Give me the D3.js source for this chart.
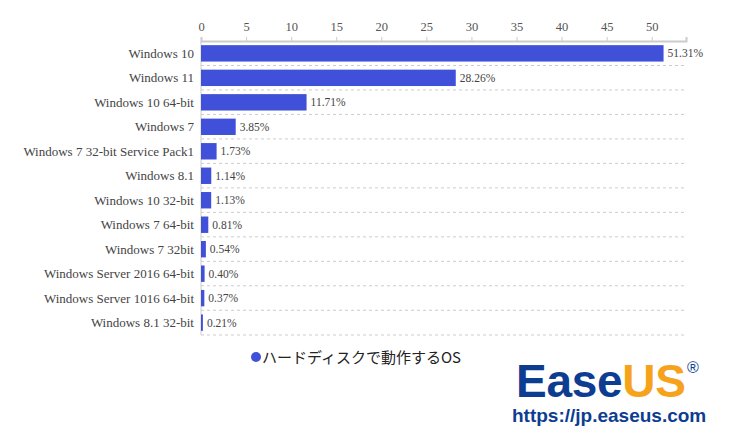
<!DOCTYPE html>
<html><head><meta charset="utf-8">
<script src="https://cdn.jsdelivr.net/npm/d3@7"></script>
<style>body{margin:0;background:#fff}.serif{font-family:"Liberation Serif","Times New Roman","DejaVu Serif",serif}</style></head>
<body><svg id="c" width="737" height="439"></svg>
<script>
const categories=["Windows 10","Windows 11","Windows 10 64-bit","Windows 7","Windows 7 32-bit Service Pack1","Windows 8.1","Windows 10 32-bit","Windows 7 64-bit","Windows 7 32bit","Windows Server 2016 64-bit","Windows Server 1016 64-bit","Windows 8.1 32-bit"];
const values=[51.31,28.26,11.71,3.85,1.73,1.14,1.13,0.81,0.54,0.40,0.37,0.21];
const ticks=[0,5,10,15,20,25,30,35,40,45,50];
const seriesName="ハードディスクで動作するOS";
const svg=d3.select("#c");
const x=d3.scaleLinear().domain([0,53.8]).range([201,686]);
const y=d3.scaleBand().domain(categories).range([41,335]).paddingInner(0.33).paddingOuter(0.17);
const step=y.step();
categories.forEach((c,i)=>{ if(i>0) svg.append("line").attr("x1",201).attr("x2",686).attr("y1",41+i*step).attr("y2",41+i*step).attr("stroke","#ccc").attr("stroke-dasharray","3,3");});
svg.append("line").attr("x1",201).attr("x2",686).attr("y1",335).attr("y2",335).attr("stroke","#ccc").attr("stroke-dasharray","3,3");
const ax=svg.append("g").attr("transform","translate(0,41)").call(d3.axisTop(x).tickValues(ticks).tickSize(4).tickPadding(6));
ax.attr("font-family",null);
ax.select(".domain").attr("stroke","#ccc").attr("stroke-width",2);
ax.selectAll(".tick line").attr("stroke","#ccc");
ax.selectAll("text").attr("class","serif").attr("font-size",12.5).attr("fill","#555");
svg.append("line").attr("x1",201).attr("x2",201).attr("y1",41).attr("y2",335).attr("stroke","#ccc");
svg.selectAll("rect.b").data(values).join("rect").attr("x",x(0)).attr("y",(d,i)=>y(categories[i])).attr("width",d=>x(d)-x(0)).attr("height",y.bandwidth()).attr("fill","#4050d8");
svg.selectAll("text.v").data(values).join("text").attr("class","serif").attr("x",d=>x(d)+4).attr("y",(d,i)=>y(categories[i])+y.bandwidth()/2).attr("dy","0.35em").attr("font-size",11.5).attr("fill","#444").text(d=>d.toFixed(2)+"%");
svg.selectAll("text.c").data(categories).join("text").attr("class","serif").attr("x",194).attr("y",d=>y(d)+y.bandwidth()/2).attr("dy","0.35em").attr("text-anchor","end").attr("font-size",13).attr("fill","#444").text(d=>d);
svg.append("circle").attr("cx",256).attr("cy",357).attr("r",5).attr("fill","#4050d8");
svg.append("text").attr("x",262).attr("y",363).attr("font-family","'Noto Sans CJK JP'").attr("font-size",15).attr("fill","#222").text(seriesName);
svg.append("text").attr("x",516).attr("y",397).attr("font-family","'Liberation Sans',Arial,sans-serif").attr("font-weight","bold").attr("font-size",46).attr("textLength",170).html("<tspan fill='#0d3d91'>Ease</tspan><tspan fill='#f7a21b'>US</tspan>");
svg.append("text").attr("x",687).attr("y",373).attr("font-family","'Liberation Sans',sans-serif").attr("font-size",16).attr("fill","#0d3d91").text("®");
svg.append("text").attr("x",512).attr("y",422).attr("font-family","'Liberation Sans',Arial,sans-serif").attr("font-weight","bold").attr("font-size",19).attr("fill","#0d3d91").text("https://jp.easeus.com");
</script></body></html>
